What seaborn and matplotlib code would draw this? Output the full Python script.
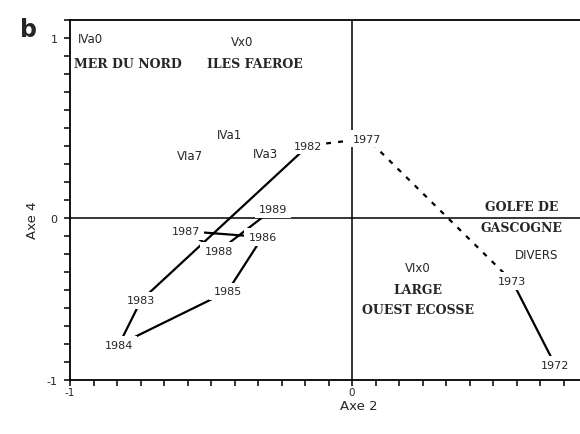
import matplotlib
matplotlib.use("Agg")
import matplotlib.pyplot as plt
import seaborn as sns
import pandas as pd

# ---- data ----
years = ["1972", "1973", "1977", "1982", "1983", "1984", "1985", "1986", "1987", "1988", "1989"]
axe2 = [0.864, 0.682, 0.064, -0.186, -0.898, -0.992, -0.530, -0.381, -0.708, -0.568, -0.335]
axe4 = [-0.816, -0.352, 0.441, 0.402, -0.458, -0.704, -0.408, -0.106, -0.073, -0.184, 0.050]

solid_path_a = ["1972", "1973"]
dashed_path = ["1973", "1977", "1982"]
solid_path_b = ["1982", "1983", "1984", "1985", "1986", "1987", "1988", "1989"]

codes = ["IVa0", "Vx0", "IVa1", "VIa7", "IVa3", "DIVERS", "VIx0"]
codes_x = [-1.115, -0.468, -0.52, -0.69, -0.37, 0.785, 0.28]
codes_y = [0.994, 0.982, 0.464, 0.346, 0.358, -0.201, -0.274]

regions = ["MER DU NORD", "ILES FAEROE", "GOLFE DE\nGASCOGNE", "LARGE\nOUEST ECOSSE"]
regions_x = [-0.955, -0.415, 0.72, 0.28]
regions_y = [0.86, 0.86, 0.005, -0.452]

xticks_labeled = {-1.2: "-1", 0.0: "0"}
yticks_labeled = {-0.9: "-1", 0.0: "0", 1.0: "1"}

df = pd.DataFrame({"year": years, "axe2": axe2, "axe4": axe4}).set_index("year")

sns.set_style("white")
plt.rcParams["font.family"] = ["DejaVu Sans"]

fig = plt.figure(figsize=(5.8, 4.35), dpi=100)
ax = fig.add_axes([0.1207, 0.124, 0.8793, 0.828])

def draw_path(path, ls):
    sub = df.loc[path].reset_index()
    sns.lineplot(data=sub, x="axe2", y="axe4", sort=False, estimator=None,
                 color="black", linewidth=1.6, linestyle=ls, ax=ax, zorder=2)

draw_path(solid_path_a, "-")
draw_path(dashed_path, (0, (2.2, 3.2)))
draw_path(solid_path_b, "-")

ax.axhline(0, color="black", lw=1.1, zorder=1)
ax.axvline(0, color="black", lw=1.1, zorder=1)

for yr, x, y in zip(years, axe2, axe4):
    ax.text(x, y, yr, ha="center", va="center", fontsize=8, zorder=4,
            bbox=dict(boxstyle="square,pad=0.35", fc="white", ec="none"))

for c, x, y in zip(codes, codes_x, codes_y):
    ax.text(x, y, c, ha="center", va="center", fontsize=8.5, zorder=3)

for r, x, y in zip(regions, regions_x, regions_y):
    ax.text(x, y, r, ha="center", va="center", fontsize=9, zorder=3,
            family="DejaVu Serif", fontweight="bold", linespacing=1.75)

ax.set_xlim(-1.2, 0.97)
ax.set_ylim(-0.9, 1.1)
xt = [round(-1.2 + 0.1 * i, 2) for i in range(22)]
yt = [round(-0.9 + 0.1 * i, 2) for i in range(21)]
ax.set_xticks(xt)
ax.set_yticks(yt)
ax.set_xticklabels([xticks_labeled.get(round(v, 2), "") for v in xt], fontsize=7.5)
ax.set_yticklabels([yticks_labeled.get(round(v, 2), "") for v in yt], fontsize=8)
ax.tick_params(direction="out", length=4, width=1.1, color="black",
               bottom=True, left=True)
ax.tick_params(axis="x", pad=1)
ax.tick_params(axis="y", pad=5)
for s in ["left", "bottom", "top"]:
    ax.spines[s].set_color("black")
    ax.spines[s].set_linewidth(1.3)
ax.spines["right"].set_visible(False)

ax.set_xlabel("Axe 2", fontsize=9.5, labelpad=0)
ax.set_ylabel("Axe 4", fontsize=9.5, labelpad=0)
ax.xaxis.set_label_coords((359 - 70) / 510, -(400 - 381) / 360)
ax.yaxis.set_label_coords(-(70 - 39) / 510, (381 - 220) / 360)
fig.text(28 / 580, 1 - 30 / 435, "b", fontsize=17, fontweight="bold",
         ha="center", va="center")

fig.savefig("out.png", dpi=100, facecolor="white")
